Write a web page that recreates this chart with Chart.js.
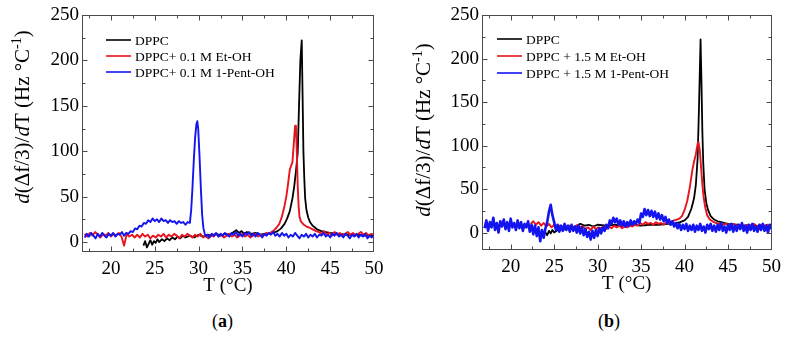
<!DOCTYPE html>
<html>
<head>
<meta charset="utf-8">
<script src="https://cdn.jsdelivr.net/npm/chart.js@4"></script>
<style>
  html,body{margin:0;padding:0;background:#fff;}
  body{width:787px;height:340px;position:relative;overflow:hidden;font-family:"Liberation Serif",serif;}
  canvas{position:absolute;top:0;}
  .plab{position:absolute;top:311px;font-size:18px;font-family:"Liberation Serif",serif;color:#000;}
</style>
</head>
<body>
<canvas id="ca" width="393" height="300" style="left:0px;width:393px;height:300px"></canvas>
<canvas id="cb" width="387" height="300" style="left:400px;width:387px;height:300px"></canvas>
<div class="plab" style="left:212px">(<b>a</b>)</div>
<div class="plab" style="left:598px">(<b>b</b>)</div>
<script>
// ---------- axis tick values ----------
const xMajorTicks = [20, 25, 30, 35, 40, 45, 50];
const xMinorTicks = [17.5, 22.5, 27.5, 32.5, 37.5, 42.5, 47.5];
const yMajorTicks = [0, 50, 100, 150, 200, 250];
const yMinorTicks = [25, 75, 125, 175, 225];

// ---------- legend labels ----------
const labelsA = ["DPPC", "DPPC+ 0.1 M Et-OH", "DPPC+ 0.1 M 1-Pent-OH"];
const labelsB = ["DPPC", "DPPC + 1.5 M Et-OH", "DPPC + 1.5 M 1-Pent-OH"];

// ---------- panel (a) : DPPC ----------
const dppcA_T = [
 23.7,23.9,24.1,24.3,24.5,24.7,24.9,25.1,25.3,25.5,
 25.8,26.1,26.4,26.7,27.0,27.3,27.6,27.9,28.2,28.5,
 29.0,29.5,30.0,30.5,31.0,31.5,32.0,32.5,33.0,33.5,
 34.0,34.3,34.6,34.9,35.2,35.5,36.0,36.5,37.0,37.5,
 38.0,38.5,39.0,39.4,39.8,40.1,40.4,40.7,40.9,41.1,
 41.3,41.45,41.6,41.76,41.85,41.95,42.05,42.15,42.3,42.5,
 42.7,43.0,43.5,44.0,44.5,45.0,46.0,47.0,48.0,49.0,
 50.0];
const dppcA_V = [
 -4,1,-6,-2,2,-3,1,-1,3,0,
 3,1,4,2,5,3,6,4,7,5,
 7,5,8,6,8,7,9,7,9,8,
 11,13,10,12,9,11,9,10,8,9,
 9,10,12,15,20,26,34,48,61,78,
 98,150,200,222,165,100,70,48,35,27,
 22,18,14,12,11,10,9,8,8,7,
 7];

// ---------- panel (a) : DPPC + 0.1 M Et-OH ----------
const etohA_T = [
 17.0,17.3,17.6,17.9,18.2,18.5,18.8,19.1,19.4,19.7,
 20.0,20.3,20.6,20.9,21.2,21.5,21.8,22.1,22.4,22.7,
 23.0,23.3,23.6,23.9,24.2,24.5,24.8,25.1,25.4,25.7,
 26.0,26.3,26.6,26.9,27.2,27.5,27.8,28.1,28.4,28.7,
 29.0,29.3,29.6,29.9,30.2,30.5,30.8,31.1,31.4,31.7,
 32.0,32.3,32.6,32.9,33.2,33.5,33.8,34.1,34.4,34.7,
 35.0,35.3,35.6,35.9,36.2,36.5,36.8,37.1,37.4,37.7,
 38.0,38.3,38.6,38.9,39.2,39.5,39.8,40.0,40.2,40.4,
 40.55,40.7,40.85,41.0,41.1,41.2,41.3,41.4,41.5,41.65,
 41.8,42.0,42.3,42.6,43.0,43.4,43.7,44.0,44.3,44.6,
 44.9,45.2,45.5,45.8,46.1,46.4,46.7,47.0,47.3,47.6,
 47.9,48.2,48.5,48.8,49.1,49.4,49.7,50.0];
const etohA_V = [
 9,6,10,7,11,8,5,9,7,10,
 6,9,7,10,6,-4,9,6,8,5,
 8,5,9,6,8,4,7,5,8,6,
 9,5,8,6,9,7,4,8,6,9,
 7,5,8,6,9,5,7,4,8,6,
 9,6,8,5,7,9,6,8,5,7,
 9,6,8,5,7,9,6,8,7,10,
 9,11,13,16,20,28,40,50,64,80,
 84,88,108,128,126,98,62,40,28,23,
 21,19,17,16,14,12,11,9,12,8,
 10,7,11,8,10,7,9,11,8,10,
 7,9,11,8,10,7,9,8];

// ---------- panel (a) : DPPC + 0.1 M 1-Pent-OH ----------
const pentA_T = [
 17.00,17.25,17.50,17.75,18.00,18.25,18.50,18.75,
 19.00,19.25,19.50,19.75,20.00,20.25,20.50,20.75,
 21.00,21.25,21.50,21.75,22.00,22.25,22.50,22.75,
 23.00,23.25,23.50,23.75,24.00,24.25,24.50,24.75,
 25.00,25.25,25.50,25.75,26.00,26.25,26.50,26.75,
 27.00,27.25,27.50,27.75,28.00,28.25,28.50,28.75,
 29.00,29.15,29.30,29.45,29.60,29.75,29.85,29.95,
 30.10,30.25,30.40,30.55,30.70,30.85,
 31.00,31.25,31.50,31.75,32.00,32.25,32.50,32.75,
 33.00,33.25,33.50,33.75,34.00,34.25,34.50,34.75,
 35.00,35.25,35.50,35.75,36.00,36.25,36.50,36.75,
 37.00,37.25,37.50,37.75,38.00,38.25,38.50,38.75,
 39.00,39.25,39.50,39.75,40.00,40.25,40.50,40.75,
 41.00,41.25,41.50,41.75,42.00,42.25,42.50,42.75,
 43.00,43.25,43.50,43.75,44.00,44.25,44.50,44.75,
 45.00,45.25,45.50,45.75,46.00,46.25,46.50,46.75,
 47.00,47.25,47.50,47.75,48.00,48.25,48.50,48.75,
 49.00,49.25,49.50,49.75,50.00];
const pentA_V = [
 5,9,6,10,7,4,9,6,
 10,7,5,9,7,10,6,9,
 8,11,7,10,9,12,11,15,
 14,18,17,21,20,24,22,26,
 23,25,22,26,23,24,21,24,
 22,23,20,23,21,22,19,22,
 21,35,60,90,115,130,133,125,
 95,60,30,15,9,6,
 8,5,9,7,10,6,9,7,
 10,8,6,10,8,11,7,9,
 6,10,8,11,7,9,6,10,
 8,5,9,7,10,8,11,7,
 9,6,10,7,9,5,8,6,
 10,7,4,8,6,9,5,8,
 6,9,5,8,7,10,6,8,
 5,9,7,10,6,8,5,9,
 7,4,8,6,9,5,8,6,
 9,4,7,5,8];

// ---------- panel (b) : DPPC ----------
const dppcB_T = [
 24.0,24.2,24.4,24.6,24.8,25.0,25.3,25.6,26.0,26.5,
 27.0,27.5,28.0,28.5,29.0,29.5,30.0,31.0,32.0,33.0,
 34.0,35.0,36.0,37.0,38.0,38.5,39.0,39.5,40.0,40.4,
 40.8,41.1,41.3,41.5,41.65,41.84,41.95,42.05,42.15,42.3,
 42.5,42.7,43.0,43.4,43.8,44.2,44.6,45.0,46.0,47.0,
 48.0,49.0,50.0];
const dppcB_V = [
 0,-3,2,-1,3,0,2,4,3,5,
 6,7,10,8,9,7,9,8,9,8,
 9,8,9,9,10,10,11,12,14,18,
 28,40,55,85,140,222,170,115,80,50,
 34,26,19,15,13,12,11,10,9,8,
 8,7,8];

// ---------- panel (b) : DPPC + 1.5 M Et-OH ----------
const etohB_T = [
 22.3,22.6,22.9,23.2,23.5,23.8,24.1,24.4,24.7,25.0,
 25.3,25.6,25.9,26.2,26.5,26.8,27.1,27.4,27.7,28.0,
 28.3,28.6,28.9,29.2,29.5,29.8,30.1,30.4,30.7,31.0,
 31.3,31.6,31.9,32.2,32.5,32.8,33.1,33.4,33.7,34.0,
 34.3,34.6,34.9,35.2,35.5,35.8,36.1,36.4,36.7,37.0,
 37.3,37.6,37.9,38.2,38.5,38.8,39.1,39.4,39.7,40.0,
 40.3,40.6,40.9,41.1,41.3,41.5,41.6,41.75,41.9,42.05,
 42.2,42.4,42.6,42.9,43.2,43.6,44.0,44.4,44.8,45.2,
 45.6,46.0,46.4,46.8,47.2,47.6,48.0,48.4,48.8,49.2,
 49.6,50.0];
const etohB_V = [
 10,13,9,12,8,11,7,10,6,9,
 6,8,5,9,6,8,5,7,9,6,
 7,4,6,3,7,4,6,5,7,4,
 7,5,8,6,8,5,7,6,8,7,
 9,8,11,9,12,10,11,9,12,10,
 11,9,12,11,13,14,15,16,19,26,
 36,52,72,82,90,102,104,95,75,55,
 40,28,20,15,13,11,10,9,10,8,
 10,8,9,7,9,8,10,7,9,8,
 9,7];

// ---------- panel (b) : DPPC + 1.5 M 1-Pent-OH ----------
const pentB_T = [
 17.0,17.2,17.4,17.6,17.8,18.0,18.2,18.4,18.6,18.8,
 19.0,19.2,19.4,19.6,19.8,20.0,20.2,20.4,20.6,20.8,
 21.0,21.2,21.4,21.6,21.8,22.0,22.2,22.4,22.6,22.8,
 23.0,23.2,23.4,23.6,23.8,24.0,24.2,24.4,24.6,24.8,
 25.0,25.2,25.4,25.6,25.8,26.0,26.2,26.4,26.6,26.8,
 27.0,27.2,27.4,27.6,27.8,28.0,28.2,28.4,28.6,28.8,
 29.0,29.2,29.4,29.6,29.8,30.0,30.2,30.4,30.6,30.8,
 31.0,31.2,31.4,31.6,31.8,32.0,32.2,32.4,32.6,32.8,
 33.0,33.2,33.4,33.6,33.8,34.0,34.2,34.4,34.6,34.8,
 35.0,35.2,35.4,35.6,35.8,36.0,36.2,36.4,36.6,36.8,
 37.0,37.2,37.4,37.6,37.8,38.0,38.2,38.4,38.6,38.8,
 39.0,39.2,39.4,39.6,39.8,40.0,40.2,40.4,40.6,40.8,
 41.0,41.2,41.4,41.6,41.8,42.0,42.2,42.4,42.6,42.8,
 43.0,43.2,43.4,43.6,43.8,44.0,44.2,44.4,44.6,44.8,
 45.0,45.2,45.4,45.6,45.8,46.0,46.2,46.4,46.6,46.8,
 47.0,47.2,47.4,47.6,47.8,48.0,48.2,48.4,48.6,48.8,
 49.0,49.2,49.4,49.6,49.8,50.0];
const pentB_V = [
 5,14,2,12,6,17,3,11,0,13,
 7,15,4,12,2,16,6,11,3,14,
 5,12,2,10,6,13,1,9,-2,8,
 -4,6,-10,3,-6,5,12,24,32,20,
 12,3,9,1,8,2,10,3,8,1,
 9,2,7,0,8,-1,6,-3,4,-5,
 1,-8,2,-6,3,-4,5,-1,6,2,
 9,5,14,10,17,12,16,9,14,8,
 13,7,12,8,14,9,13,10,15,11,
 22,18,27,20,26,19,25,18,24,16,
 22,15,20,13,18,11,15,9,13,7,
 11,5,10,3,9,4,10,2,8,3,
 9,1,8,3,10,2,7,0,9,4,
 10,2,8,1,9,3,11,2,7,0,
 9,3,10,1,8,2,9,4,11,2,
 8,0,9,3,10,2,7,1,9,3,
 10,2,8,0,9,4];

// ---------- helpers ----------
const SERIF = '"Liberation Serif", "Times New Roman", serif';
const COLORS = ['#000000', '#e8141e', '#1414f0'];
function pts(T, V){ return T.map((t,i)=>({x:t, y:V[i]})); }

const decor = {
  id: 'decor',
  afterDatasetsDraw(chart, args, o) {
    const {ctx, chartArea:a, scales:{x, y}} = chart;
    ctx.save();
    ctx.strokeStyle = '#4a4a4a';
    ctx.lineWidth = 1;
    const L = Math.round(a.left)+0.5, R = Math.round(a.right)-0.5, T = Math.round(a.top)+0.5, B = Math.round(a.bottom)-0.5;
    ctx.strokeRect(L, T, R-L, B-T);
    const seg = (x1,y1,x2,y2)=>{ctx.beginPath();ctx.moveTo(x1,y1);ctx.lineTo(x2,y2);ctx.stroke();};
    const xt = (v,len)=>{ const p=Math.round(x.getPixelForValue(v))+0.5; if(p<L||p>R) return; seg(p,B,p,B-len); seg(p,T,p,T+len); };
    const yt = (v,len)=>{ const p=Math.round(y.getPixelForValue(v))+0.5; if(p<T||p>B) return; seg(L,p,L+len,p); seg(R,p,R-len,p); };
    xMajorTicks.forEach(v=>xt(v,5)); xMinorTicks.forEach(v=>xt(v,3));
    yMajorTicks.forEach(v=>yt(v,5)); yMinorTicks.forEach(v=>yt(v,3));
    ctx.restore();
  },
  afterDraw(chart, args, o) {
    const {ctx, chartArea:a} = chart;
    ctx.save();
    // legend inside plot
    ctx.font = `${o.legendSize}px ${SERIF}`;
    ctx.textBaseline = 'middle';
    ctx.fillStyle = '#000';
    chart.data.datasets.forEach((ds,i)=>{
      const yy = o.legendY + i*o.legendGap;
      ctx.strokeStyle = ds.borderColor; ctx.lineWidth = 1.6;
      ctx.beginPath(); ctx.moveTo(o.legendX, yy); ctx.lineTo(o.legendX+25, yy); ctx.stroke();
      ctx.fillText(ds.label, o.legendX+29, yy+1);
    });
    // x title
    ctx.font = `${o.titleSize}px ${SERIF}`;
    ctx.textAlign = 'center'; ctx.textBaseline = 'middle';
    ctx.fillText('T (°C)', (a.left+a.right)/2 + o.xTitleDx, a.bottom + o.xTitleDy);
    // y title (rotated, mixed style)
    const s = o.yTitleSize;
    const runs = [
      {t:'d', f:`italic ${s}px ${SERIF}`},
      {t:'(Δf/3)/', f:`${s}px ${SERIF}`},
      {t:'d', f:`italic ${s}px ${SERIF}`},
      {t:'T (Hz °C', f:`${s}px ${SERIF}`},
      {t:'-1', f:`${Math.round(s*0.68)}px ${SERIF}`, up: s*0.38},
      {t:')', f:`${s}px ${SERIF}`}
    ];
    ctx.translate(o.yTitleX, o.yTitleY);
    ctx.rotate(-Math.PI/2);
    ctx.textAlign = 'left'; ctx.textBaseline = 'alphabetic';
    let total = 0;
    runs.forEach(r=>{ ctx.font = r.f; r.w = ctx.measureText(r.t).width; total += r.w; });
    let cx = -total/2;
    runs.forEach(r=>{ ctx.font = r.f; ctx.fillText(r.t, cx, s*0.33 - (r.up||0)); cx += r.w; });
    ctx.restore();
  }
};

function makePanel(id, labels, series, widths, yMin, xH, padRight, deco) {
  const datasets = series.map((s,i)=>({
    label: labels[i],
    data: pts(s[0], s[1]),
    borderColor: COLORS[i],
    borderWidth: widths[i],
    pointRadius: 0,
    tension: 0,
    borderJoinStyle: 'round',
    order: 3 - i
  }));
  return new Chart(document.getElementById(id), {
    type: 'line',
    data: { datasets },
    options: {
      responsive: false, animation: false, events: [],
      layout: { padding: { left: 0, top: 15, right: padRight, bottom: 0 } },
      plugins: { legend: { display: false }, tooltip: { enabled: false }, decor: deco },
      scales: {
        x: {
          type: 'linear', min: 16.7, max: 50,
          afterBuildTicks: sc => { sc.ticks = xMajorTicks.map(v=>({value:v})); },
          afterFit: sc => { sc.height = xH; },
          grid: { display: false, drawTicks: false }, border: { display: false },
          ticks: { font: { family: SERIF, size: 19 }, color: '#000', padding: 6, maxRotation: 0, autoSkip: false }
        },
        y: {
          type: 'linear', min: yMin, max: 250,
          afterBuildTicks: sc => { sc.ticks = yMajorTicks.map(v=>({value:v})); },
          afterFit: sc => { sc.width = 82; },
          grid: { display: false, drawTicks: false }, border: { display: false },
          ticks: { font: { family: SERIF, size: 19 }, color: '#000', padding: 3 }
        }
      }
    },
    plugins: [decor]
  });
}

makePanel('ca', labelsA,
  [[dppcA_T, dppcA_V], [etohA_T, etohA_V], [pentA_T, pentA_V]],
  [1.8, 1.9, 1.9],
  -11, 48, 19,
  { legendX: 106, legendY: 40, legendGap: 16, legendSize: 13.5, titleSize: 19, yTitleSize: 21,
    xTitleDx: 0, xTitleDy: 34, yTitleX: 22, yTitleY: 117 });

makePanel('cb', labelsB,
  [[dppcB_T, dppcB_V], [etohB_T, etohB_V], [pentB_T, pentB_V]],
  [1.8, 1.9, 2.6],
  -20, 50, 13,
  { legendX: 97, legendY: 39, legendGap: 17, legendSize: 13.5, titleSize: 19, yTitleSize: 21,
    xTitleDx: 0, xTitleDy: 34, yTitleX: 23, yTitleY: 130 });
</script>
</body>
</html>
